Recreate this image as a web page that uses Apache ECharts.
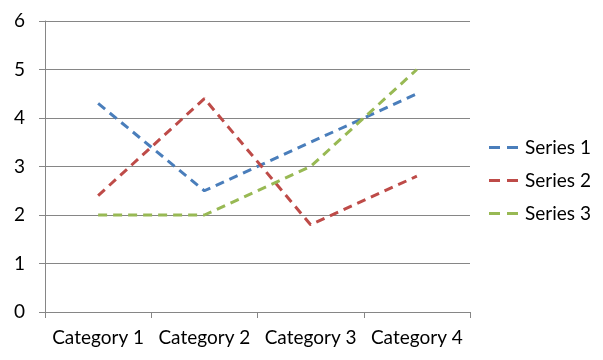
<!DOCTYPE html>
<html><head><meta charset="utf-8">
<script src="https://cdn.jsdelivr.net/npm/echarts@6/dist/echarts.min.js"></script>
<style>html,body{margin:0;padding:0;background:#fff}#c{width:603px;height:360px}</style>
</head><body><div id="c"></div>
<script>
const categories = ['Category 1','Category 2','Category 3','Category 4'];
const series1 = [4.3, 2.5, 3.5, 4.5];
const series2 = [2.4, 4.4, 1.8, 2.8];
const series3 = [2, 2, 3, 5];
const seriesNames = ['Series 1','Series 2','Series 3'];
const colors = ['#4A7EBB','#BE4B48','#98B954'];
const font = 'Lato, Carlito, Calibri, sans-serif';
const chart = echarts.init(document.getElementById('c'), null, {renderer:'canvas'});
const mk = (name, data, color) => ({
  name, type:'line', data, symbol:'none', color,
  lineStyle:{width:3, color, type:[9,6], cap:'butt'},
  animation:false
});
chart.setOption({
  animation:false,
  grid:{left:45, right:133, top:21, bottom:48},
  legend:{
    orient:'vertical', left:484, top:133, itemGap:14, itemWidth:29, itemHeight:10, padding:5,
    data:seriesNames.map((n,i)=>({name:n, icon:'path://M0,4L11,4L11,7L0,7ZM18,4L29,4L29,7L18,7Z', itemStyle:{color:colors[i]}})),
    textStyle:{fontFamily:font, fontSize:19, color:'#000', padding:[0,0,0,2]}
  },
  xAxis:{
    type:'category', data:categories, boundaryGap:true,
    axisLine:{lineStyle:{color:'#868686', width:1}},
    axisTick:{show:true, length:6, lineStyle:{color:'#868686'}},
    axisLabel:{fontFamily:font, fontSize:19, color:'#000', margin:16, interval:0, hideOverlap:false}
  },
  yAxis:{
    type:'value', min:0, max:6, interval:1,
    axisLine:{show:true, lineStyle:{color:'#868686', width:1}},
    axisTick:{show:true, length:6, lineStyle:{color:'#868686'}},
    splitLine:{lineStyle:{color:'#868686', width:1}},
    axisLabel:{fontFamily:font, fontSize:19, color:'#000', margin:20}
  },
  series:[mk(seriesNames[0],series1,colors[0]), mk(seriesNames[1],series2,colors[1]), mk(seriesNames[2],series3,colors[2])]
});
</script></body></html>
